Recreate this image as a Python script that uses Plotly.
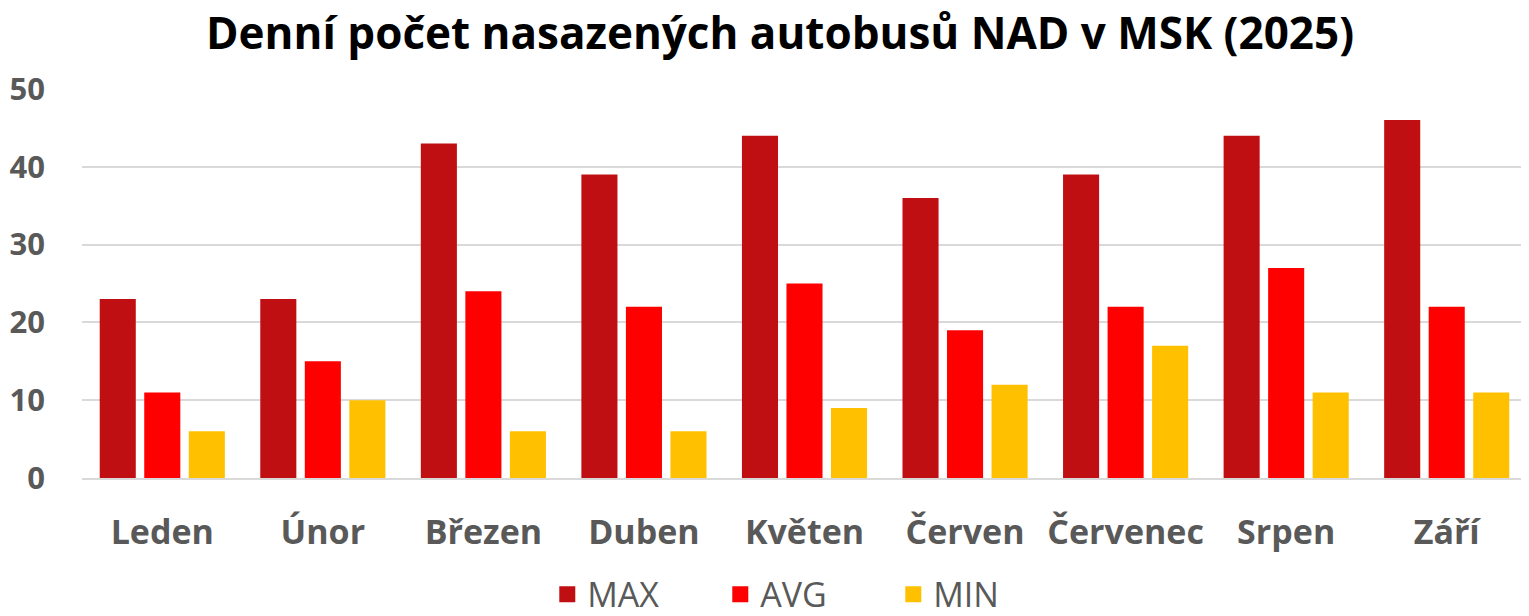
import plotly.graph_objects as go

months = ["Leden", "Únor", "Březen", "Duben", "Květen", "Červen", "Červenec", "Srpen", "Září"]
max_vals = [23, 23, 43, 39, 44, 36, 39, 44, 46]
avg_vals = [11, 15, 24, 22, 25, 19, 22, 27, 22]
min_vals = [6, 10, 6, 6, 9, 12, 17, 11, 11]
y_ticks = [0, 10, 20, 30, 40, 50]
series_names = ["MAX", "AVG", "MIN"]
series_colors = ["#C00F12", "#FF0000", "#FFC000"]

FONT = "Open Sans"
GREY = "#595959"

fig = go.Figure()
for name, vals, col in zip(series_names, [max_vals, avg_vals, min_vals], series_colors):
    fig.add_trace(go.Bar(name=name, x=months, y=vals, showlegend=False,
                         marker=dict(color=col, line=dict(width=0))))
# legend entries with larger square swatches
for name, col in zip(series_names, series_colors):
    fig.add_trace(go.Scatter(name=name, x=[None], y=[None], mode="markers",
                             marker=dict(symbol="square", size=22, color=col), showlegend=True))

fig.update_layout(
    width=1521, height=608,
    margin=dict(l=74, r=2, t=81, b=138, autoexpand=False),
    paper_bgcolor="white", plot_bgcolor="white",
    barmode="group", bargap=0.168, bargroupgap=0.19,
    title=dict(text="<b>Denní počet nasazených autobusů NAD v MSK (2025)</b>",
               x=0.5076, xanchor="center", y=0.958, yanchor="middle",
               font=dict(family=FONT, size=44, color="black")),
    legend=dict(orientation="h", x=0.322, xanchor="left", y=-0.225, yanchor="top",
                font=dict(family=FONT, size=34, color=GREY),
                itemsizing="trace", itemwidth=30, entrywidth=128,
                borderwidth=0, bgcolor="rgba(0,0,0,0)"),
    font=dict(family=FONT, color=GREY),
    showlegend=True,
)
fig.update_xaxes(showgrid=False, showline=True, linecolor="#D9D9D9", linewidth=2,
                 ticks="", ticklabelstandoff=23, automargin=False,
                 tickfont=dict(family=FONT, size=34, color=GREY, weight="bold"))
fig.update_yaxes(range=[0, 50], tickvals=y_ticks, showgrid=True, gridcolor="#D9D9D9", gridwidth=2,
                 zeroline=False, showline=False, ticks="", ticklabelstandoff=36, automargin=False,
                 tickfont=dict(family=FONT, size=31, color=GREY, weight="bold"))

fig.write_html("out.html")
